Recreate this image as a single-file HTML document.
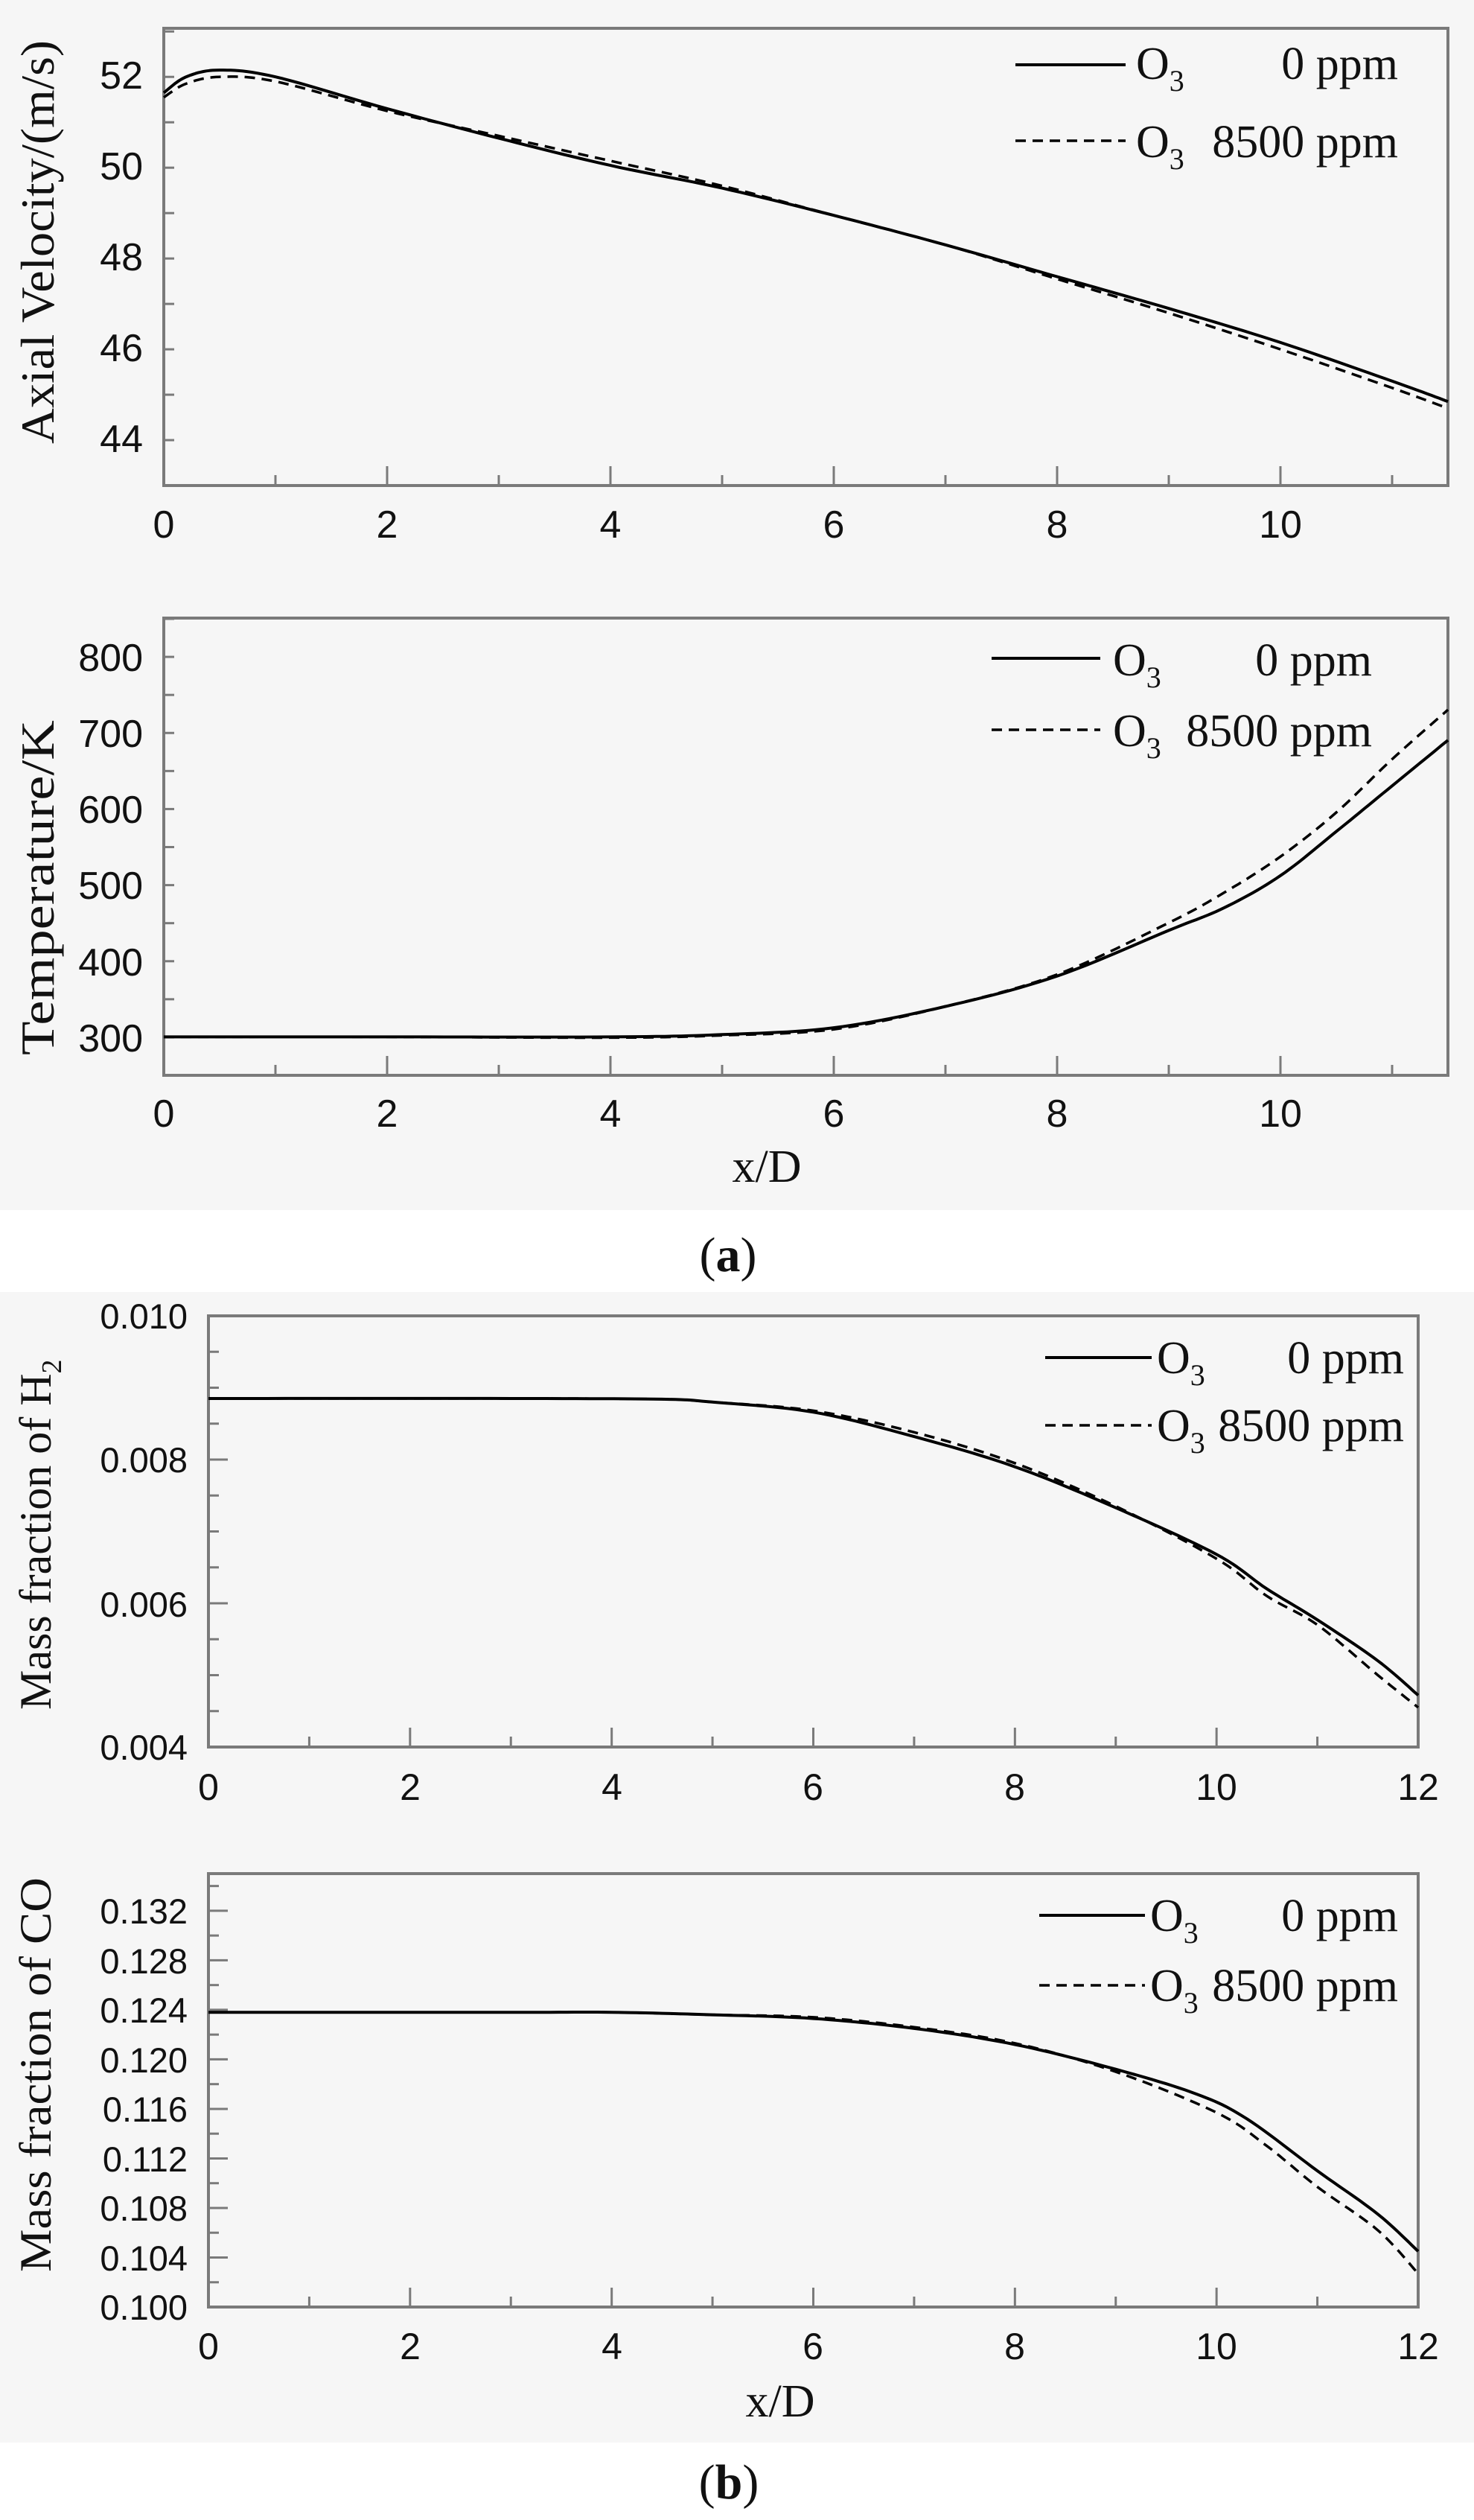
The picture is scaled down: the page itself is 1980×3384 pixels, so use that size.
<!DOCTYPE html>
<html><head><meta charset="utf-8"><style>
html,body{margin:0;padding:0;background:#fff;}
svg{display:block;}
.tk{font-family:"Liberation Sans",Arial,sans-serif;fill:#111;}
.sr{font-family:"Liberation Serif","Times New Roman",serif;fill:#111;}
</style></head><body>
<svg id="s" width="1980" height="3384" viewBox="0 0 1980 3384" xmlns="http://www.w3.org/2000/svg">
<rect x="0" y="0" width="1980" height="1625" fill="#f6f6f6"/>
<rect x="0" y="1735" width="1980" height="1545" fill="#f6f6f6"/>
<g id="g"></g>

<g class="tk" font-size="52" text-anchor="end">
<text x="192" y="119">52</text><text x="192" y="241">50</text><text x="192" y="363">48</text><text x="192" y="485">46</text><text x="192" y="607">44</text>
</g>
<g class="tk" font-size="52" text-anchor="middle">
<text x="220" y="722">0</text><text x="520" y="722">2</text><text x="820" y="722">4</text><text x="1120" y="722">6</text><text x="1420" y="722">8</text><text x="1720" y="722">10</text>
</g>
<text class="sr" font-size="64" text-anchor="middle" transform="translate(72,325) rotate(-90)" textLength="542" lengthAdjust="spacingAndGlyphs">Axial Velocity/(m/s)</text>

<g class="tk" font-size="52" text-anchor="end">
<text x="192" y="901">800</text><text x="192" y="1003">700</text><text x="192" y="1105">600</text><text x="192" y="1207">500</text><text x="192" y="1310">400</text><text x="192" y="1412">300</text>
</g>
<g class="tk" font-size="52" text-anchor="middle">
<text x="220" y="1513">0</text><text x="520" y="1513">2</text><text x="820" y="1513">4</text><text x="1120" y="1513">6</text><text x="1420" y="1513">8</text><text x="1720" y="1513">10</text>
</g>
<text class="sr" font-size="64" text-anchor="middle" transform="translate(72,1192) rotate(-90)" textLength="450" lengthAdjust="spacingAndGlyphs">Temperature/K</text>
<text class="sr" font-size="62" text-anchor="middle" x="1030" y="1587">x/D</text>

<text class="sr" font-size="66" text-anchor="middle" x="978" y="1707">(<tspan font-weight="bold">a</tspan>)</text>

<g class="tk" font-size="47" text-anchor="end">
<text x="252" y="1784">0.010</text><text x="252" y="1977">0.008</text><text x="252" y="2171">0.006</text><text x="252" y="2363">0.004</text>
</g>
<g class="tk" font-size="50" text-anchor="middle">
<text x="280" y="2417">0</text><text x="551" y="2417">2</text><text x="822" y="2417">4</text><text x="1092" y="2417">6</text><text x="1363" y="2417">8</text><text x="1634" y="2417">10</text><text x="1905" y="2417">12</text>
</g>
<text class="sr" font-size="60" transform="translate(68,2296) rotate(-90)">Mass fraction of H<tspan font-size="38" dy="14">2</tspan></text>

<g class="tk" font-size="47" text-anchor="end">
<text x="252" y="2583">0.132</text><text x="252" y="2650">0.128</text><text x="252" y="2716">0.124</text><text x="252" y="2783">0.120</text><text x="252" y="2849">0.116</text><text x="252" y="2916">0.112</text><text x="252" y="2982">0.108</text><text x="252" y="3049">0.104</text><text x="252" y="3115">0.100</text>
</g>
<g class="tk" font-size="50" text-anchor="middle">
<text x="280" y="3168">0</text><text x="551" y="3168">2</text><text x="822" y="3168">4</text><text x="1092" y="3168">6</text><text x="1363" y="3168">8</text><text x="1634" y="3168">10</text><text x="1905" y="3168">12</text>
</g>
<text class="sr" font-size="60" text-anchor="middle" transform="translate(68,2786) rotate(-90)" textLength="530" lengthAdjust="spacingAndGlyphs">Mass fraction of CO</text>
<text class="sr" font-size="62" text-anchor="middle" x="1048" y="3245">x/D</text>

<text class="sr" font-size="66" text-anchor="middle" x="979" y="3355">(<tspan font-weight="bold">b</tspan>)</text>

<g class="sr" font-size="62">
<text x="1526" y="106">O<tspan font-size="40" dy="16">3</tspan></text>
<text x="1878" y="106" text-anchor="end">0 ppm</text>
<text x="1526" y="211">O<tspan font-size="40" dy="16">3</tspan></text>
<text x="1878" y="211" text-anchor="end">8500 ppm</text>

<text x="1495" y="907">O<tspan font-size="40" dy="16">3</tspan></text>
<text x="1843" y="907" text-anchor="end">0 ppm</text>
<text x="1495" y="1002">O<tspan font-size="40" dy="16">3</tspan></text>
<text x="1843" y="1002" text-anchor="end">8500 ppm</text>

<text x="1554" y="1844">O<tspan font-size="40" dy="16">3</tspan></text>
<text x="1886" y="1844" text-anchor="end">0 ppm</text>
<text x="1554" y="1935">O<tspan font-size="40" dy="16">3</tspan></text>
<text x="1886" y="1935" text-anchor="end">8500 ppm</text>

<text x="1545" y="2593">O<tspan font-size="40" dy="16">3</tspan></text>
<text x="1878" y="2593" text-anchor="end">0 ppm</text>
<text x="1545" y="2687">O<tspan font-size="40" dy="16">3</tspan></text>
<text x="1878" y="2687" text-anchor="end">8500 ppm</text>
</g>
</svg>
<script>
(function(){
var NS="http://www.w3.org/2000/svg",g=document.getElementById('g');
function el(t,a){var e=document.createElementNS(NS,t);for(var k in a)e.setAttribute(k,a[k]);g.appendChild(e);return e;}
function spline(pts,X,Y,n){
  var out=[];
  for(var i=0;i<pts.length-1;i++){
    var p0=pts[Math.max(0,i-1)],p1=pts[i],p2=pts[i+1],p3=pts[Math.min(pts.length-1,i+2)];
    for(var k=0;k<n;k++){var t=k/n,t2=t*t,t3=t2*t;
      var x=0.5*((2*p1[0])+(-p0[0]+p2[0])*t+(2*p0[0]-5*p1[0]+4*p2[0]-p3[0])*t2+(-p0[0]+3*p1[0]-3*p2[0]+p3[0])*t3);
      var y=0.5*((2*p1[1])+(-p0[1]+p2[1])*t+(2*p0[1]-5*p1[1]+4*p2[1]-p3[1])*t2+(-p0[1]+3*p1[1]-3*p2[1]+p3[1])*t3);
      out.push(X(x).toFixed(1)+","+Y(y).toFixed(1));}
  }
  var l=pts[pts.length-1];out.push(X(l[0]).toFixed(1)+","+Y(l[1]).toFixed(1));
  return out.join(" ");
}
function panel(P){
  var X=function(x){return P.l+(x-P.x0)*(P.r-P.l)/(P.x1-P.x0);};
  var Y=function(v){return P.b-(v-P.y0)*(P.b-P.t)/(P.y1-P.y0);};
  var c="#7a7a7a";
  for(var x=P.x0;x<=P.x1+1e-9;x+=P.xm){var maj=Math.abs(Math.round(x/P.xM)*P.xM-x)<1e-9;
    el('line',{x1:X(x),x2:X(x),y1:P.b,y2:P.b-(maj?26:14),stroke:c,'stroke-width':3});}
  var n=Math.round((P.y1-P.y0)/P.ym);
  for(var i=0;i<=n;i++){var v=P.y0+i*P.ym;if(v>P.y1+1e-12)continue;var maj=Math.abs(Math.round((v-P.yb)/P.yM)*P.yM-(v-P.yb))<P.ym*0.01;
    el('line',{x1:P.l,x2:P.l+(maj?26:14),y1:Y(v),y2:Y(v),stroke:c,'stroke-width':3});}
  el('rect',{x:P.l,y:P.t,width:P.r-P.l,height:P.b-P.t,fill:'none',stroke:c,'stroke-width':4});
  el('polyline',{points:spline(P.s,X,Y,12),fill:'none',stroke:'#000','stroke-width':4,'stroke-linejoin':'round'});
  el('polyline',{points:spline(P.d,X,Y,12),fill:'none',stroke:'#000','stroke-width':3.5,'stroke-dasharray':'14,9'});
  el('line',{x1:P.lg[0],x2:P.lg[1],y1:P.lg[2],y2:P.lg[2],stroke:'#000','stroke-width':4});
  el('line',{x1:P.lg[0],x2:P.lg[1],y1:P.lg[3],y2:P.lg[3],stroke:'#000','stroke-width':3.5,'stroke-dasharray':'14,9'});
}
panel({l:220,r:1945,t:38,b:652,x0:0,x1:11.5,y0:42.95,y1:53.02,xm:1,xM:2,ym:1,yM:2,yb:44,
  s:[[0,51.6],[0.2,51.95],[0.5,52.1],[1,51.95],[2,51.25],[3,50.6],[4,50.0],[5,49.5],[6,48.9],[7,48.25],[8,47.55],[9,46.85],[10,46.1],[11,45.25],[11.5,44.8]],
  d:[[0,51.5],[0.2,51.8],[0.5,51.95],[1,51.85],[2,51.2],[3,50.65],[4,50.1],[5,49.55],[6,48.9],[7,48.25],[8,47.5],[9,46.75],[10,45.95],[11,45.1],[11.5,44.65]],
  lg:[1364,1512,87,189]});
panel({l:220,r:1945,t:830,b:1444,x0:0,x1:11.5,y0:249.5,y1:850.5,xm:1,xM:2,ym:50,yM:100,yb:300,
  s:[[0,300],[2,300],[4,300],[5,303],[6,312],[7,340],[8,380],[9,440],[9.5,470],[10,512],[10.5,570],[11,630],[11.5,690]],
  d:[[0,300],[2,300],[4,299],[5,302],[6,310],[7,340],[8,382],[9,450],[9.5,490],[10,537],[10.5,595],[11,665],[11.5,730]],
  lg:[1332,1478,884,980]});
panel({l:280,r:1905,t:1767,b:2346,x0:0,x1:12,y0:0.004,y1:0.010,xm:1,xM:2,ym:0.0005,yM:0.002,yb:0.004,
  s:[[0,0.00885],[3,0.00885],[4.5,0.00884],[5,0.0088],[6,0.00866],[7,0.00832],[8,0.0079],[9,0.00733],[10,0.00668],[10.5,0.0062],[11,0.00577],[11.6,0.0052],[12,0.00472]],
  d:[[0,0.00885],[3,0.00885],[4.5,0.00884],[5,0.0088],[6,0.00868],[7,0.00838],[8,0.00795],[9,0.00735],[10,0.00662],[10.5,0.0061],[11,0.0057],[11.6,0.0050],[12,0.00455]],
  lg:[1404,1547,1823,1914]});
panel({l:280,r:1905,t:2516,b:3098,x0:0,x1:12,y0:0.100,y1:0.135,xm:1,xM:2,ym:0.002,yM:0.004,yb:0.100,
  s:[[0,0.1238],[3,0.1238],[4,0.1238],[5,0.1236],[6,0.1233],[7,0.1225],[8,0.1212],[9,0.1192],[9.8,0.1172],[10.3,0.1152],[11,0.1110],[11.6,0.1075],[12,0.1045]],
  d:[[0,0.1238],[3,0.1238],[4,0.1238],[5,0.1236],[6,0.1234],[7,0.1226],[8,0.1213],[9,0.1190],[10,0.1157],[10.5,0.1130],[11,0.1097],[11.6,0.1062],[12,0.1027]],
  lg:[1396,1538,2572,2666]});
})();
</script>
</body></html>
